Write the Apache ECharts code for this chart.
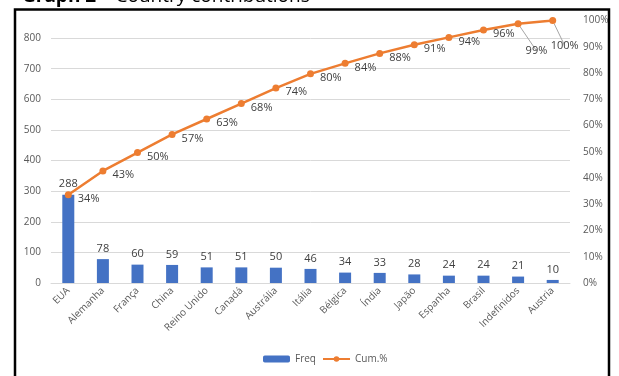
<!DOCTYPE html>
<html>
<head>
<meta charset="utf-8">
<script src="https://cdn.jsdelivr.net/npm/echarts@6/dist/echarts.min.js"></script>
<style>
  html, body { margin: 0; padding: 0; background: #fff; }
  #chart { width: 619px; height: 376px; }
</style>
</head>
<body>
<div id="chart"></div>
<script>
// dados
const countries = ['EUA', 'Alemanha', 'França', 'China', 'Reino Unido', 'Canadá', 'Austrália', 'Itália', 'Bélgica', 'Índia', 'Japão', 'Espanha', 'Brasil', 'Indefinidos', 'Austria']
const freq = [288, 78, 60, 59, 51, 51, 50, 46, 34, 33, 28, 24, 24, 21, 10]
const cumPct = [33.6, 42.7, 49.7, 56.6, 62.5, 68.4, 74.3, 79.7, 83.7, 87.5, 90.8, 93.6, 96.4, 98.8, 100]
const leftTicks = [0, 100, 200, 300, 400, 500, 600, 700, 800]

const chart = echarts.init(document.getElementById('chart'))

const labelGray = '#595959'
const dataGray = '#404040'

const option = {
  backgroundColor: '#fff',
  animation: false,
  textStyle: { fontFamily: 'Open Sans, Noto Sans, sans-serif' },
  title: {
    text: '{b|Graph 2} – Country contributions',
    left: 17,
    top: -18,
    textStyle: {
      fontSize: 19,
      fontWeight: 'normal',
      color: '#000',
      fontFamily: 'Open Sans, sans-serif',
      rich: { b: { fontSize: 19, fontWeight: 'bold', color: '#000', fontFamily: 'Open Sans, sans-serif' } }
    }
  },
  graphic: [{
    type: 'rect',
    shape: { x: 15, y: 9.5, width: 594, height: 390 },
    style: { fill: 'none', stroke: '#000', lineWidth: 2.5 },
    z: 100
  }],
  grid: { left: 51, right: 49, top: 20.6, bottom: 93 },
  legend: {
    bottom: 7,
    left: 258,
    itemWidth: 27,
    itemHeight: 7,
    itemGap: 6,
    textStyle: { fontSize: 10, color: labelGray },
    data: ['Freq', 'Cum.%']
  },
  xAxis: {
    type: 'category',
    data: countries,
    axisLine: { lineStyle: { color: '#d9d9d9' } },
    axisTick: { show: false },
    axisLabel: { rotate: 45, fontSize: 10, color: labelGray, margin: 6, interval: 0 }
  },
  yAxis: [
    {
      type: 'value',
      min: 0,
      max: 857,
      interval: 100,
      axisLine: { show: false },
      axisTick: { show: false },
      axisLabel: {
        fontSize: 10,
        color: labelGray,
        margin: 10,
        showMaxLabel: false,
        formatter: v => leftTicks.includes(v) ? v : ''
      },
      splitLine: { showMaxLine: false, lineStyle: { color: '#d9d9d9', width: 1 } }
    },
    {
      type: 'value',
      min: 0,
      max: 100,
      interval: 10,
      axisLine: { show: false },
      axisTick: { show: false },
      splitLine: { show: false },
      axisLabel: { fontSize: 10, color: labelGray, margin: 13, formatter: '{value}%' }
    }
  ],
  series: [
    {
      name: 'Freq',
      type: 'bar',
      data: freq,
      barWidth: 12,
      itemStyle: { color: '#4472c4' },
      label: { show: true, position: 'top', distance: 5, fontSize: 11, color: dataGray }
    },
    {
      name: 'Cum.%',
      type: 'line',
      yAxisIndex: 1,
      data: cumPct.map((v, i) => {
        if (i === 13) return { value: v, label: { offset: [-2, 27] }, labelLine: { show: true } }
        if (i === 14) return { value: v, label: { position: 'bottom', offset: [12, 10] }, labelLine: { show: true } }
        return v
      }),
      symbol: 'circle',
      symbolSize: 7,
      lineStyle: { color: '#ed7d31', width: 2.5 },
      itemStyle: { color: '#ed7d31' },
      labelLine: { lineStyle: { color: '#a6a6a6', width: 1 } },
      label: {
        show: true,
        position: 'right',
        distance: 6,
        offset: [0, 4],
        fontSize: 11,
        color: dataGray,
        formatter: p => Math.round(p.value) + '%'
      }
    }
  ]
}

chart.setOption(option)
</script>
</body>
</html>
